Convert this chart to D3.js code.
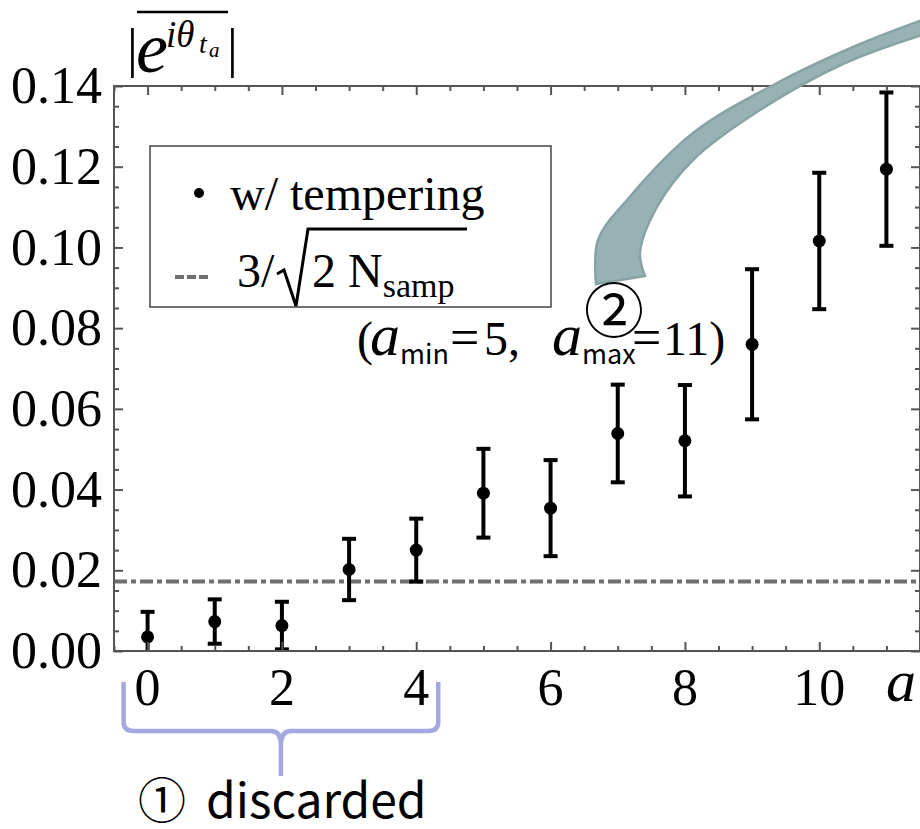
<!DOCTYPE html>
<html>
<head>
<meta charset="utf-8">
<script src="https://cdn.jsdelivr.net/npm/d3@7"></script>
<style>
  html, body { margin: 0; padding: 0; background: #fff; }
  svg { display: block; }
</style>
</head>
<body>
<div id="chart"></div>
<script>
// data
const aValues = [0, 1, 2, 3, 4, 5, 6, 7, 8, 9, 10, 11];
const phaseMean = [0.0035, 0.0073, 0.0063, 0.0202, 0.0250, 0.0391, 0.0354, 0.0539, 0.0521, 0.0760, 0.1016, 0.1194];
const phaseErr = [0.0062, 0.0055, 0.0059, 0.0076, 0.0078, 0.0110, 0.0119, 0.0121, 0.0138, 0.0186, 0.0169, 0.0190];
const threshold = 0.0172;
const xTickLabels = [0, 2, 4, 6, 8, 10];
const yTickLabels = [0, 0.02, 0.04, 0.06, 0.08, 0.10, 0.12, 0.14];
const discardedRange = [0, 4];

const W = 920, H = 829;
const serif = '"Liberation Serif", "Times New Roman", serif';
const sans = '"Noto Sans CJK JP", "Noto Sans", sans-serif';

const svg = d3.select('#chart').append('svg')
  .attr('width', W)
  .attr('height', H)
  .attr('viewBox', `0 0 ${W} ${H}`);

const x = d3.scaleLinear().domain([-0.5, 11.5]).range([114, 920]);
const y = d3.scaleLinear().domain([0, 0.14]).range([651, 86]);

const [x0, x1] = x.range();
const [y0, y1] = y.range();

// clip for plot contents
svg.append('clipPath').attr('id', 'plot-clip')
  .append('rect')
  .attr('x', x0).attr('y', y1)
  .attr('width', x1 - x0).attr('height', y0 - y1);

const frameColor = '#555';

// threshold line (dash-dot)
svg.append('line')
  .attr('x1', x0).attr('x2', x1)
  .attr('y1', y(threshold)).attr('y2', y(threshold))
  .attr('stroke', '#6f6f6f')
  .attr('stroke-width', 4)
  .attr('stroke-dasharray', '13,4,5,4');

// error bars + points
const pts = aValues.map((a, i) => ({ a, v: phaseMean[i], e: phaseErr[i] }));
const marks = svg.append('g').attr('clip-path', 'url(#plot-clip)');

marks.selectAll('line.err')
  .data(pts)
  .join('line')
  .attr('class', 'err')
  .attr('x1', d => x(d.a)).attr('x2', d => x(d.a))
  .attr('y1', d => y(d.v - d.e)).attr('y2', d => y(d.v + d.e))
  .attr('stroke', '#000').attr('stroke-width', 4);

const capW = 7;
['lo', 'hi'].forEach(side => {
  marks.selectAll(`line.cap-${side}`)
    .data(pts)
    .join('line')
    .attr('class', `cap-${side}`)
    .attr('x1', d => x(d.a) - capW).attr('x2', d => x(d.a) + capW)
    .attr('y1', d => y(side === 'lo' ? d.v - d.e : d.v + d.e))
    .attr('y2', d => y(side === 'lo' ? d.v - d.e : d.v + d.e))
    .attr('stroke', '#000').attr('stroke-width', 4);
});

marks.selectAll('circle.pt')
  .data(pts)
  .join('circle')
  .attr('class', 'pt')
  .attr('cx', d => x(d.a)).attr('cy', d => y(d.v))
  .attr('r', 6.5)
  .attr('fill', '#000');

// frame with inward ticks on all four sides
const xMinor = d3.range(-0.5, 11.51, 0.5);
const yMinor = d3.range(0, 0.1401, 0.005);
const frame = svg.append('g');

const styleTicks = sel => sel.call(g => g.select('.domain').remove())
  .call(g => g.selectAll('.tick line').attr('stroke', frameColor).attr('stroke-width', 2))
  .call(g => g.selectAll('.tick text').remove());

const isMajorX = v => Math.abs(v - Math.round(v)) < 1e-6 && Math.round(v) % 2 === 0;
const isMajorY = v => Math.abs(v / 0.02 - Math.round(v / 0.02)) < 1e-6;

frame.append('g').attr('transform', `translate(0,${y0})`)
  .call(d3.axisTop(x).tickValues(xMinor).tickSizeOuter(0))
  .call(styleTicks)
  .call(g => g.selectAll('.tick line').attr('y2', d => isMajorX(d) ? -9 : -5));

frame.append('g').attr('transform', `translate(0,${y1})`)
  .call(d3.axisBottom(x).tickValues(xMinor).tickSizeOuter(0))
  .call(styleTicks)
  .call(g => g.selectAll('.tick line').attr('y2', d => isMajorX(d) ? 9 : 5));

frame.append('g').attr('transform', `translate(${x0},0)`)
  .call(d3.axisRight(y).tickValues(yMinor).tickSizeOuter(0))
  .call(styleTicks)
  .call(g => g.selectAll('.tick line').attr('x2', d => isMajorY(d) ? 9 : 5));

frame.append('g').attr('transform', `translate(${x1},0)`)
  .call(d3.axisLeft(y).tickValues(yMinor).tickSizeOuter(0))
  .call(styleTicks)
  .call(g => g.selectAll('.tick line').attr('x2', d => isMajorY(d) ? -9 : -5));

frame.append('rect')
  .attr('x', x0).attr('y', y1)
  .attr('width', x1 - x0).attr('height', y0 - y1)
  .attr('fill', 'none')
  .attr('stroke', frameColor).attr('stroke-width', 2);

// tick labels
svg.append('g').selectAll('text')
  .data(yTickLabels)
  .join('text')
  .attr('x', 102)
  .attr('y', d => y(d))
  .attr('dy', '0.33em')
  .attr('text-anchor', 'end')
  .attr('font-family', serif)
  .attr('font-size', 52)
  .text(d => d3.format('.2f')(d));

svg.append('g').selectAll('text')
  .data(xTickLabels)
  .join('text')
  .attr('x', d => x(d))
  .attr('y', 705)
  .attr('text-anchor', 'middle')
  .attr('font-family', serif)
  .attr('font-size', 52)
  .text(d => d);

svg.append('text')
  .attr('x', 886).attr('y', 701)
  .attr('font-family', serif).attr('font-style', 'italic')
  .attr('font-size', 60)
  .text('a');

// y axis title |e^{iθ_{t_a}}| with overline
const title = svg.append('g').attr('font-family', serif).attr('font-style', 'italic');
title.append('text').attr('x', 127).attr('y', 66).attr('font-size', 54).attr('font-style', 'normal').text('|');
title.append('text').attr('x', 136).attr('y', 72).attr('font-size', 72).text('e');
title.append('text').attr('x', 166).attr('y', 47).attr('font-size', 37).text('iθ');
title.append('text').attr('x', 199).attr('y', 53).attr('font-size', 28).text('t');
title.append('text').attr('x', 209).attr('y', 57).attr('font-size', 21).text('a');
title.append('text').attr('x', 227).attr('y', 66).attr('font-size', 54).attr('font-style', 'normal').text('|');
title.append('line').attr('x1', 137).attr('x2', 228).attr('y1', 12).attr('y2', 12)
  .attr('stroke', '#000').attr('stroke-width', 2.5);

// legend
const legend = svg.append('g');
legend.append('rect')
  .attr('x', 150).attr('y', 146).attr('width', 401).attr('height', 161)
  .attr('fill', '#fff').attr('stroke', '#444').attr('stroke-width', 1.5);
legend.append('circle').attr('cx', 199).attr('cy', 193).attr('r', 5).attr('fill', '#000');
legend.append('text').attr('x', 230).attr('y', 210)
  .attr('font-family', serif).attr('font-size', 48).text('w/ tempering');
legend.append('line')
  .attr('x1', 175).attr('x2', 209).attr('y1', 277).attr('y2', 277)
  .attr('stroke', '#6f6f6f').attr('stroke-width', 4)
  .attr('stroke-dasharray', '9,3');
legend.append('text').attr('x', 237).attr('y', 287)
  .attr('font-family', serif).attr('font-size', 48).text('3/');
legend.append('path')
  .attr('d', 'M277,274 L284,270 L296,306 L308,229 L467,229')
  .attr('fill', 'none').attr('stroke', '#000').attr('stroke-width', 3)
  .attr('stroke-linejoin', 'miter');
legend.append('text').attr('x', 312).attr('y', 287)
  .attr('font-family', serif).attr('font-size', 48)
  .text('2 N')
  .append('tspan').attr('font-size', 34).attr('dy', 10).text('samp');

// arrow band (teal) from the top right corner down to ②
const bandOuter = [[596, 284], [598, 240], [627, 200], [693, 133], [777, 83], [860, 44], [922, 20]];
const bandInner = [[922, 35], [843, 64], [760, 110], [693, 160], [657, 207], [640, 253], [645, 276]];
const curve = d3.line().curve(d3.curveCatmullRom.alpha(0.5));
svg.append('path')
  .attr('d', curve(bandOuter) + 'L' + curve(bandInner).slice(1) + 'Z')
  .attr('fill', '#97b2b2')
  .attr('stroke', '#87a3a4')
  .attr('stroke-width', 2.5);

// annotation ② and (a_min = 5, a_max = 11)
svg.append('text')
  .attr('x', 614).attr('y', 306)
  .attr('text-anchor', 'middle').attr('dominant-baseline', 'central')
  .attr('font-family', sans).attr('font-size', 60)
  .text('②');

const ann = svg.append('text').attr('y', 355)
  .attr('font-family', serif).attr('font-size', 48);
ann.append('tspan').attr('x', 357).text('(');
ann.append('tspan').attr('x', 370).attr('font-style', 'italic').attr('font-size', 60).text('a');
ann.append('tspan').attr('x', 400).attr('y', 364).attr('font-family', sans).attr('font-size', 27).text('min');
ann.append('tspan').attr('x', 450).attr('y', 355).attr('font-size', 52).text('=');
ann.append('tspan').attr('x', 484).text('5,');
ann.append('tspan').attr('x', 552).attr('font-style', 'italic').attr('font-size', 60).text('a');
ann.append('tspan').attr('x', 582).attr('y', 364).attr('font-family', sans).attr('font-size', 27).text('max');
ann.append('tspan').attr('x', 632).attr('y', 355).attr('font-size', 52).text('=');
ann.append('tspan').attr('x', 663).text('11)');

// brace under discarded points
const bl = x(discardedRange[0]) - 24, br = x(discardedRange[1]) + 22, bm = (bl + br) / 2;
svg.append('path')
  .attr('d', `M${bl},682 L${bl},722 Q${bl},731 ${bl + 10},731 L${bm - 10},731 Q${bm},731 ${bm},745 L${bm},776 ` +
    `M${bm},745 Q${bm},731 ${bm + 10},731 L${br - 10},731 Q${br},731 ${br},722 L${br},682`)
  .attr('fill', 'none')
  .attr('stroke', '#a5a7e0')
  .attr('stroke-width', 4.5)
  .attr('stroke-linecap', 'butt');

const disc = svg.append('text')
  .attr('y', 818)
  .attr('font-family', sans).attr('font-size', 48);
disc.append('tspan').attr('x', 138).text('①');
disc.append('tspan').attr('x', 206).text('discarded');
</script>
</body>
</html>
